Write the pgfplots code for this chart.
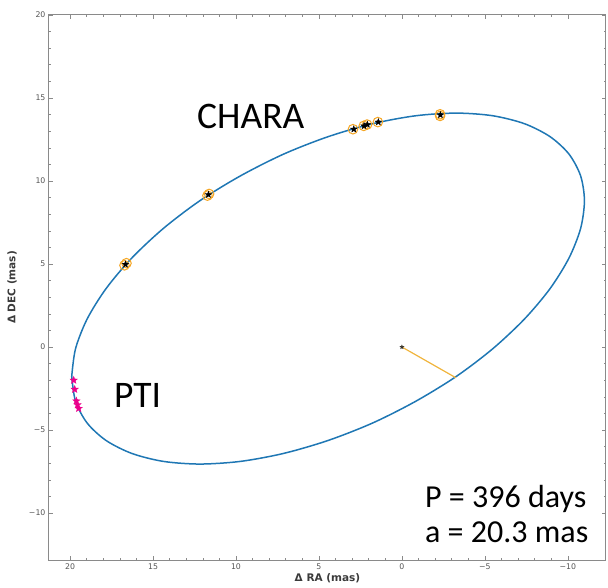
\documentclass[border=0pt]{standalone}
\usepackage{pgfplots}
\pgfplotsset{compat=1.18}
\usepackage{fontspec}
\setmainfont{Carlito}
\newfontfamily\tickfont{DejaVu Sans}
\definecolor{orbitblue}{HTML}{1F77B4}
\definecolor{ringorange}{HTML}{F5A623}
\definecolor{lineyellow}{HTML}{F0B43C}
\definecolor{axgray}{HTML}{8A8A8A}
\definecolor{labgray}{HTML}{555555}

% filled five-pointed star
\pgfdeclareplotmark{fstar}{%
  \pgfpathmoveto{\pgfpointpolar{90}{\pgfplotmarksize}}%
  \pgfpathlineto{\pgfpointpolar{126}{0.42\pgfplotmarksize}}%
  \pgfpathlineto{\pgfpointpolar{162}{\pgfplotmarksize}}%
  \pgfpathlineto{\pgfpointpolar{198}{0.42\pgfplotmarksize}}%
  \pgfpathlineto{\pgfpointpolar{234}{\pgfplotmarksize}}%
  \pgfpathlineto{\pgfpointpolar{270}{0.42\pgfplotmarksize}}%
  \pgfpathlineto{\pgfpointpolar{306}{\pgfplotmarksize}}%
  \pgfpathlineto{\pgfpointpolar{342}{0.42\pgfplotmarksize}}%
  \pgfpathlineto{\pgfpointpolar{18}{\pgfplotmarksize}}%
  \pgfpathlineto{\pgfpointpolar{54}{0.42\pgfplotmarksize}}%
  \pgfpathclose
  \pgfusepathqfillstroke
}

\begin{document}
\begin{tikzpicture}
\begin{axis}[
  scale only axis,
  width=557pt, height=545pt,
  x dir=reverse,
  xmin=-12.3, xmax=21.27,
  ymin=-12.83, ymax=20,
  axis line style={axgray, line width=1pt},
  xtick={-10,-5,0,5,10,15,20},
  xticklabels={−10,−5,0,5,10,15,20},
  ytick={-10,-5,0,5,10,15,20},
  yticklabels={−10,−5,0,5,10,15,20},
  minor tick num=4,
  tick align=inside,
  major tick length=4pt,
  minor tick length=2.2pt,
  tick style={axgray, line width=0.6pt},
  ticklabel style={font=\tickfont\fontsize{7.8}{8}\selectfont, text=labgray},
  xlabel={\tickfont\bfseries\fontsize{10.5}{12}\selectfont Δ RA (mas)},
  ylabel={\tickfont\bfseries\fontsize{10.5}{12}\selectfont Δ DEC (mas)},
  xlabel style={at={(axis description cs:0.5,-0.034)}, anchor=center, text=labgray!70!black},
  ylabel style={at={(axis description cs:-0.0664,0.5)}, anchor=center, text=labgray!70!black},
  clip=false,
]
% relative orbit
\addplot[orbitblue, line width=1.5pt, smooth] coordinates {
(19.90,-1.77) (19.67,-0.10) (18.97,1.69) (17.83,3.52) (16.28,5.36)
(14.38,7.14) (12.18,8.81) (9.73,10.31) (7.13,11.62) (4.45,12.67)
(1.77,13.45) (-0.83,13.93) (-3.28,14.09) (-5.48,13.93) (-7.39,13.45)
(-8.93,12.67) (-10.07,11.62) (-10.77,10.31) (-11.00,8.81) (-10.77,7.14)
(-10.07,5.36) (-8.93,3.52) (-7.39,1.69) (-5.48,-0.10) (-3.28,-1.77)
(-0.83,-3.27) (1.77,-4.58) (4.45,-5.63) (7.13,-6.41) (9.73,-6.89)
(12.18,-7.05) (14.38,-6.89) (16.28,-6.41) (17.83,-5.63) (18.97,-4.58)
(19.67,-3.27) (19.90,-1.77)
};
% line of apsides
\addplot[lineyellow, line width=1.2pt] coordinates {(0,0) (-3.25,-1.85)};
\addplot[only marks, mark=fstar, mark size=2pt, black!80, mark options={fill=black!70!lineyellow}] coordinates {(0,0)};
% CHARA measurements
\addplot[only marks, mark=o, mark size=4.8pt, mark options={draw=ringorange, fill=ringorange!35, line width=1pt}] coordinates {
(16.72,4.92) (16.60,5.05) (11.72,9.12) (11.62,9.22)
(2.95,13.12) (2.30,13.32) (2.10,13.40) (1.45,13.55) (-2.30,14.02) (-2.30,13.92)
};
\addplot[only marks, mark=fstar, mark size=3.4pt, mark options={fill=black, draw=black}] coordinates {
(16.66,4.98) (11.66,9.18)
(2.90,13.12) (2.28,13.32) (2.08,13.40) (1.42,13.55) (-2.32,13.98)
};
% PTI measurements
\addplot[only marks, mark=fstar, mark size=3.8pt, mark options={fill=magenta, draw=magenta}] coordinates {
(19.78,-2.00) (19.72,-2.55) (19.62,-3.25) (19.55,-3.48) (19.48,-3.70)
};
\node[anchor=base west, font=\fontsize{37.5}{40}\selectfont, inner sep=0pt] at (axis cs:12.35,13.19) {CHARA};
\node[anchor=base west, font=\fontsize{37.5}{40}\selectfont, inner sep=0pt] at (axis cs:17.35,-3.67) {PTI};
\node[anchor=base west, font=\fontsize{32}{34}\selectfont, inner sep=0pt] at (axis cs:-1.39,-9.64) {P = 396 days};
\node[anchor=base west, font=\fontsize{32}{34}\selectfont, inner sep=0pt] at (axis cs:-1.39,-11.75) {a = 20.3 mas};
\end{axis}
\pgfresetboundingbox
\path (-49pt,-27pt) rectangle (559pt,560pt);
\end{tikzpicture}
\end{document}
